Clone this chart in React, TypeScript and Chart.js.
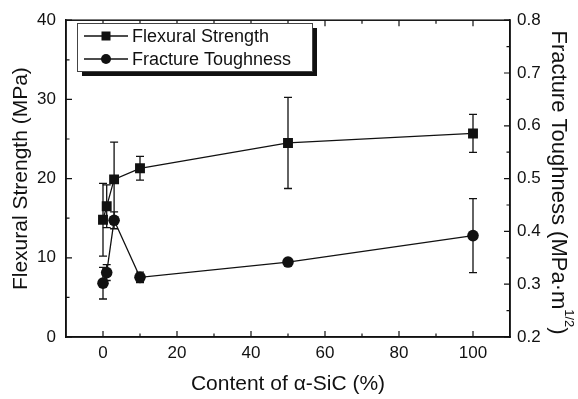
import React, { useEffect, useRef } from "react";
import { Chart, registerables } from "chart.js";

Chart.register(...registerables);

// ---- data ----
const contentSiC = [0, 1, 3, 10, 50, 100];
const flexuralStrength = [14.8, 16.5, 19.9, 21.3, 24.5, 25.7];
const flexuralError = [4.6, 2.7, 4.7, 1.5, 5.75, 2.4];
const fractureToughness = [0.302, 0.322, 0.421, 0.313, 0.342, 0.392];
const toughnessError = [0.03, 0.015, 0.016, 0.01, 0.004, 0.07];

const xTickLabels = [0, 20, 40, 60, 80, 100];
const xMinorTicks = [10, 30, 50, 70, 90];
const leftTickLabels = [0, 10, 20, 30, 40];
const leftMinorTicks = [5, 15, 25, 35];
const rightTickLabels = [0.2, 0.3, 0.4, 0.5, 0.6, 0.7, 0.8];
const rightMinorTicks = [0.25, 0.35, 0.45, 0.55, 0.65, 0.75];

const seriesNames = ["Flexural Strength", "Fracture Toughness"];

const FONT = '"Liberation Sans", Arial, Helvetica, sans-serif';
const INK = "#111111";

const decorPlugin = {
  id: "decor",
  beforeDatasetsDraw(chart: any) {
    const ctx = chart.ctx;
    const xs = chart.scales.x;
    const series = [
      { vals: flexuralStrength, errs: flexuralError, scale: chart.scales.y },
      { vals: fractureToughness, errs: toughnessError, scale: chart.scales.y1 },
    ];
    ctx.save();
    ctx.strokeStyle = INK;
    ctx.lineWidth = 1.3;
    series.forEach((s) => {
      contentSiC.forEach((xv, i) => {
        const px = xs.getPixelForValue(xv);
        const top = s.scale.getPixelForValue(s.vals[i] + s.errs[i]);
        const bot = s.scale.getPixelForValue(s.vals[i] - s.errs[i]);
        ctx.beginPath();
        ctx.moveTo(px, top);
        ctx.lineTo(px, bot);
        ctx.moveTo(px - 4, top);
        ctx.lineTo(px + 4, top);
        ctx.moveTo(px - 4, bot);
        ctx.lineTo(px + 4, bot);
        ctx.stroke();
      });
    });
    ctx.restore();
  },
  afterDraw(chart: any) {
    const ctx = chart.ctx;
    const a = chart.chartArea;
    const xs = chart.scales.x;
    const yl = chart.scales.y;
    const yr = chart.scales.y1;
    ctx.save();
    ctx.strokeStyle = INK;
    ctx.lineWidth = 1.5;
    ctx.strokeRect(a.left, a.top, a.right - a.left, a.bottom - a.top);
    ctx.lineWidth = 1.2;
    ctx.beginPath();
    const tickX = (v: number, len: number) => {
      const p = xs.getPixelForValue(v);
      ctx.moveTo(p, a.bottom);
      ctx.lineTo(p, a.bottom - len);
      ctx.moveTo(p, a.top);
      ctx.lineTo(p, a.top + len);
    };
    xTickLabels.forEach((v) => tickX(v, 6));
    xMinorTicks.forEach((v) => tickX(v, 3.5));
    const tickL = (v: number, len: number) => {
      const p = yl.getPixelForValue(v);
      ctx.moveTo(a.left, p);
      ctx.lineTo(a.left + len, p);
    };
    leftTickLabels.forEach((v) => tickL(v, 6));
    leftMinorTicks.forEach((v) => tickL(v, 3.5));
    const tickR = (v: number, len: number) => {
      const p = yr.getPixelForValue(v);
      ctx.moveTo(a.right, p);
      ctx.lineTo(a.right - len, p);
    };
    rightTickLabels.forEach((v) => tickR(v, 6));
    rightMinorTicks.forEach((v) => tickR(v, 3.5));
    ctx.stroke();

    // legend
    const lx = 77, ly = 23, lw = 235, lh = 48;
    ctx.fillStyle = INK;
    ctx.fillRect(lx + 5, ly + 5, lw, lh);
    ctx.fillStyle = "#ffffff";
    ctx.fillRect(lx, ly, lw, lh);
    ctx.strokeStyle = "#444";
    ctx.lineWidth = 1;
    ctx.strokeRect(lx + 0.5, ly + 0.5, lw, lh);
    const rows = [ly + 13, ly + 36];
    ctx.strokeStyle = INK;
    ctx.fillStyle = INK;
    ctx.lineWidth = 1.3;
    rows.forEach((ry, i) => {
      ctx.beginPath();
      ctx.moveTo(lx + 7, ry);
      ctx.lineTo(lx + 51, ry);
      ctx.stroke();
      if (i === 0) {
        ctx.fillRect(lx + 29 - 4.5, ry - 4.5, 9, 9);
      } else {
        ctx.beginPath();
        ctx.arc(lx + 29, ry, 5, 0, Math.PI * 2);
        ctx.fill();
      }
      ctx.font = `18px ${FONT}`;
      ctx.textAlign = "left";
      ctx.textBaseline = "middle";
      ctx.fillText(seriesNames[i], lx + 55, ry + 1);
    });

    // right axis title with superscript
    const main = "Fracture Toughness (MPa·m";
    const sup = "1/2";
    const close = ")";
    ctx.font = `22px ${FONT}`;
    const w1 = ctx.measureText(main).width;
    const w3 = ctx.measureText(close).width;
    ctx.font = `13px ${FONT}`;
    const w2 = ctx.measureText(sup).width;
    const total = w1 + w2 + w3;
    ctx.translate(558, (a.top + a.bottom) / 2 + 4);
    ctx.rotate(Math.PI / 2);
    ctx.textAlign = "left";
    ctx.textBaseline = "middle";
    let x = -total / 2;
    ctx.font = `22px ${FONT}`;
    ctx.fillText(main, x, 0);
    x += w1;
    ctx.font = `13px ${FONT}`;
    ctx.fillText(sup, x, -11);
    x += w2;
    ctx.font = `22px ${FONT}`;
    ctx.fillText(close, x, 0);
    ctx.restore();
  },
};

export default function App() {
  const ref = useRef<HTMLCanvasElement | null>(null);
  useEffect(() => {
    document.body.style.margin = "0";
    const canvas = ref.current;
    if (!canvas) return;
    const chart = new Chart(canvas, {
      type: "line",
      data: {
        datasets: [
          {
            label: seriesNames[0],
            data: contentSiC.map((x, i) => ({ x, y: flexuralStrength[i] })),
            yAxisID: "y",
            borderColor: INK,
            backgroundColor: INK,
            borderWidth: 1.3,
            pointStyle: "rect",
            pointRadius: 7,
            pointBorderWidth: 0,
            pointBackgroundColor: INK,
            tension: 0,
          },
          {
            label: seriesNames[1],
            data: contentSiC.map((x, i) => ({ x, y: fractureToughness[i] })),
            yAxisID: "y1",
            borderColor: INK,
            backgroundColor: INK,
            borderWidth: 1.3,
            pointStyle: "circle",
            pointRadius: 5.8,
            pointBorderWidth: 0,
            pointBackgroundColor: INK,
            tension: 0,
          },
        ],
      },
      options: {
        responsive: false,
        animation: false,
        layout: { padding: { top: 16, left: 0, right: 0, bottom: 0 } },
        plugins: { legend: { display: false }, tooltip: { enabled: false } },
        scales: {
          x: {
            type: "linear",
            position: "bottom",
            min: -10,
            max: 110,
            afterBuildTicks: (s: any) => {
              s.ticks = xTickLabels.map((v) => ({ value: v }));
            },
            afterFit: (s: any) => {
              s.height = 62;
            },
            grid: { display: false, drawTicks: false },
            border: { display: true, color: INK, width: 1.5 },
            ticks: { padding: 6, color: INK, font: { family: FONT, size: 17 }, maxRotation: 0 },
            title: {
              display: true,
              text: "Content of α-SiC (%)",
              color: INK,
              font: { family: FONT, size: 21 },
              padding: { top: 0, bottom: 2 },
            },
          },
          y: {
            type: "linear",
            position: "left",
            min: 0,
            max: 40,
            afterBuildTicks: (s: any) => {
              s.ticks = leftTickLabels.map((v) => ({ value: v }));
            },
            afterFit: (s: any) => {
              s.width = 66;
            },
            grid: { display: false, drawTicks: false },
            border: { display: true, color: INK, width: 1.5 },
            ticks: { padding: 10, color: INK, font: { family: FONT, size: 17 } },
            title: {
              display: true,
              text: "Flexural Strength (MPa)",
              color: INK,
              font: { family: FONT, size: 21 },
              padding: { top: 9, bottom: 0 },
            },
          },
          y1: {
            type: "linear",
            position: "right",
            min: 0.2,
            max: 0.8,
            afterBuildTicks: (s: any) => {
              s.ticks = rightTickLabels.map((v) => ({ value: v }));
            },
            afterFit: (s: any) => {
              s.width = 68;
            },
            grid: { display: false, drawTicks: false },
            border: { display: true, color: INK, width: 1.5 },
            ticks: {
              padding: 7,
              color: INK,
              font: { family: FONT, size: 17 },
              callback: (v: any) => Number(v).toFixed(1),
            },
          },
        },
      },
      plugins: [decorPlugin],
    });
    return () => chart.destroy();
  }, []);
  return <canvas ref={ref} width={578} height={399} style={{ display: "block" }} />;
}
